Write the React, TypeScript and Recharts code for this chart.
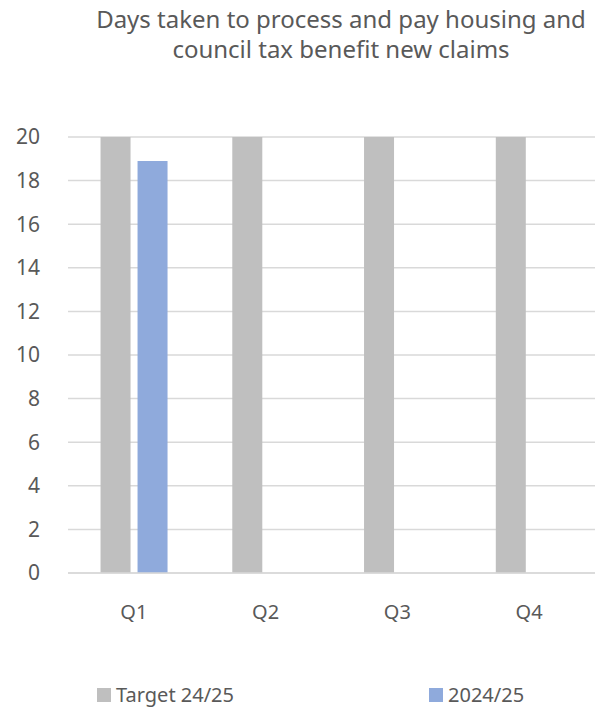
import React from 'react';
import { BarChart, Bar, XAxis, YAxis, CartesianGrid } from 'recharts';

const quarters = ['Q1', 'Q2', 'Q3', 'Q4'];
const target2425 = [20, 20, 20, 20];
const actual2425 = [18.9, null, null, null];
const yTicks = [0, 2, 4, 6, 8, 10, 12, 14, 16, 18, 20];

const TEXT = '#595959';
const FONT = '"Noto Sans", sans-serif';

const series = [
  { key: 'target', name: 'Target 24/25', color: '#bfbfbf', left: 97 },
  { key: 'actual', name: '2024/25', color: '#8faadc', left: 429 },
];

export default function App() {
  const data = quarters.map((q, i) => ({
    quarter: q,
    target: target2425[i],
    actual: actual2425[i],
  }));

  return (
    <div style={{ position: 'absolute', left: 0, top: 0, width: 604, height: 708, background: '#fff', overflow: 'hidden' }}>
      <div
        style={{
          position: 'absolute',
          left: 41,
          width: 600,
          top: 4,
          textAlign: 'center',
          whiteSpace: 'nowrap',
          fontFamily: FONT,
          fontSize: 24,
          lineHeight: '30px',
          color: TEXT,
        }}
      >
        Days taken to process and pay housing and
        <br />
        council tax benefit new claims
      </div>
      <BarChart
        width={604}
        height={708}
        data={data}
        margin={{ top: 137, right: 9, bottom: 95, left: 8 }}
        barCategoryGap="24.7%"
        barGap={7}
      >
        <CartesianGrid vertical={false} stroke="#d9d9d9" strokeWidth={1.5} />
        <XAxis
          dataKey="quarter"
          height={40}
          axisLine={{ stroke: '#d9d9d9', strokeWidth: 1.5 }}
          tickLine={false}
          tickMargin={26}
          tick={{ fill: TEXT, fontSize: 20, fontFamily: FONT }}
        />
        <YAxis
          width={60}
          domain={[0, 20]}
          ticks={yTicks}
          interval={0}
          axisLine={false}
          tickLine={false}
          tickMargin={22}
          tick={{ fill: TEXT, fontSize: 21, fontFamily: FONT }}
        />
        {series.map((s) => (
          <Bar key={s.key} dataKey={s.key} name={s.name} fill={s.color} isAnimationActive={false} />
        ))}
      </BarChart>
      {series.map((s) => (
        <div
          key={s.key}
          style={{
            position: 'absolute',
            left: s.left,
            top: 681,
            height: 27,
            display: 'flex',
            alignItems: 'center',
            fontFamily: FONT,
            fontSize: 20,
            color: TEXT,
            whiteSpace: 'nowrap',
          }}
        >
          <span style={{ display: 'inline-block', width: 14, height: 14, background: s.color, marginRight: 5 }} />
          <span>{s.name}</span>
        </div>
      ))}
    </div>
  );
}
